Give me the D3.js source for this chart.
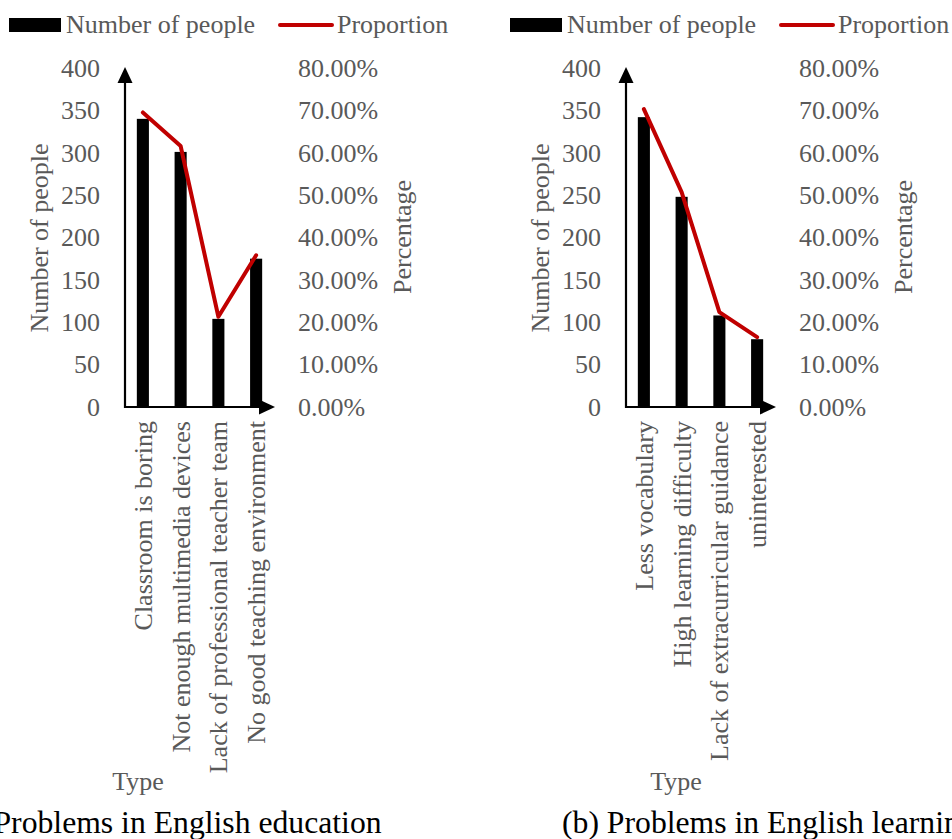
<!DOCTYPE html>
<html>
<head>
<meta charset="utf-8">
<script src="https://cdn.jsdelivr.net/npm/d3@7"></script>
<style>
  html, body { margin: 0; padding: 0; background: #fff; }
  svg { display: block; }
</style>
</head>
<body>
<svg id="chart" width="952" height="839" style="font-family: 'Liberation Serif', 'Times New Roman', serif;"></svg>
<script>
// ---- Data ----
const categoriesA = ["Classroom is boring", "Not enough multimedia devices", "Lack of professional teacher team", "No good teaching environment"];
const peopleA = [340, 301, 104, 175];
const proportionA = [0.695, 0.616, 0.213, 0.358];

const categoriesB = ["Less vocabulary", "High learning difficulty", "Lack of extracurricular guidance", "uninterested"];
const peopleB = [342, 248, 108, 80];
const proportionB = [0.703, 0.507, 0.224, 0.165];

const leftTicks = [0, 50, 100, 150, 200, 250, 300, 350, 400];
const rightTicks = [0, 0.1, 0.2, 0.3, 0.4, 0.5, 0.6, 0.7, 0.8];
const legendLabels = ["Number of people", "Proportion"];
const axisTitles = { left: "Number of people", right: "Percentage", bottom: "Type" };
const captions = ["(a) Problems in English education", "(b) Problems in English learning"];

// ---- Drawing ----
const FONT = "'Liberation Serif', 'Times New Roman', serif";
const svg = d3.select("#chart");
const GRAY = "#595959";
const RED = "#C00000";
const FS = 26;

function styleText(sel) {
  return sel.attr("font-size", FS).attr("fill", GRAY).attr("font-family", FONT).style("font-family", FONT);
}

function drawChart(g, cats, people, props, opt) {
  const axisX = 125, baseY = 407, topY = 68;
  const y = d3.scaleLinear().domain([0, 400]).range([baseY, topY]);
  const yR = d3.scaleLinear().domain([0, 0.8]).range([baseY, topY]);
  const x = d3.scaleBand().domain(cats).range([axisX - 1, axisX + 150])
    .paddingInner(0.68).paddingOuter(0.34);

  // Legend
  const lg = g.append("g");
  lg.append("rect").attr("x", 9).attr("y", 18).attr("width", 52).attr("height", 14).attr("fill", "#000");
  styleText(lg.append("text").attr("x", 66).attr("y", 33)).text(legendLabels[0]);
  lg.append("line").attr("x1", 280).attr("x2", 332).attr("y1", 25).attr("y2", 25)
    .attr("stroke", RED).attr("stroke-width", 4).attr("stroke-linecap", "round");
  styleText(lg.append("text").attr("x", 337).attr("y", 33)).text(legendLabels[1]);

  // Left tick labels
  const la = g.append("g").attr("transform", `translate(100,0)`)
    .call(d3.axisLeft(y).tickValues(leftTicks).tickSize(0).tickPadding(0));
  la.attr("font-family", FONT).attr("font-size", FS);
  la.select(".domain").remove();
  styleText(la.selectAll("text"));

  // Right tick labels
  const ra = g.append("g").attr("transform", `translate(298,0)`)
    .call(d3.axisRight(yR).tickValues(rightTicks).tickFormat(d3.format(".2%")).tickSize(0).tickPadding(0));
  ra.attr("font-family", FONT).attr("font-size", FS);
  ra.select(".domain").remove();
  styleText(ra.selectAll("text"));

  // Bars
  g.append("g").selectAll("rect").data(cats).join("rect")
    .attr("x", d => x(d))
    .attr("width", x.bandwidth())
    .attr("y", (d, i) => y(people[i]))
    .attr("height", (d, i) => baseY - y(people[i]))
    .attr("fill", "#000");

  // Axes with arrows
  g.append("line").attr("x1", axisX).attr("x2", axisX).attr("y1", baseY + 1).attr("y2", topY + 12)
    .attr("stroke", "#000").attr("stroke-width", 2.2);
  g.append("path").attr("d", `M${axisX - 7.5},${topY + 15} L${axisX},${topY - 1} L${axisX + 7.5},${topY + 15} Z`).attr("fill", "#000");
  const endX = axisX + 150;
  g.append("line").attr("x1", axisX - 1).attr("x2", endX - 12).attr("y1", baseY).attr("y2", baseY)
    .attr("stroke", "#000").attr("stroke-width", 2.2);
  g.append("path").attr("d", `M${endX - 16},${baseY - 7.5} L${endX},${baseY} L${endX - 16},${baseY + 7.5} Z`).attr("fill", "#000");

  // Proportion line
  const line = d3.line()
    .x((d, i) => x(cats[i]) + x.bandwidth() / 2)
    .y(d => yR(d));
  g.append("path").datum(props).attr("d", line)
    .attr("fill", "none").attr("stroke", RED).attr("stroke-width", 4)
    .attr("stroke-linejoin", "round").attr("stroke-linecap", "round");

  // Category labels
  const ba = g.append("g").attr("transform", `translate(0,${baseY})`)
    .call(d3.axisBottom(x).tickSize(0));
  ba.attr("font-family", FONT).attr("font-size", FS);
  ba.select(".domain").remove();
  styleText(ba.selectAll("text"))
    .attr("transform", "rotate(-90)")
    .attr("x", -14).attr("y", 0).attr("dy", "0.35em")
    .style("text-anchor", "end");

  // Axis titles
  styleText(g.append("text").attr("transform", `translate(48,238) rotate(-90)`)
    .attr("text-anchor", "middle")).text(axisTitles.left);
  styleText(g.append("text").attr("transform", `translate(411,237) rotate(-90)`)
    .attr("text-anchor", "middle")).text(axisTitles.right);
  styleText(g.append("text").attr("x", opt.typeX).attr("y", 790)
    .attr("text-anchor", "middle")).text(axisTitles.bottom);
}

drawChart(svg.append("g"), categoriesA, peopleA, proportionA, { typeX: 138 });
drawChart(svg.append("g").attr("transform", "translate(501,0)"), categoriesB, peopleB, proportionB, { typeX: 175 });

// Captions (clipped by the figure edge, as in the reference)
svg.append("text").attr("x", 166).attr("y", 833).attr("text-anchor", "middle")
  .attr("font-family", FONT).style("font-family", FONT)
  .attr("font-size", 31.7).attr("fill", "#000").text(captions[0]);
svg.append("text").attr("x", 562).attr("y", 833).attr("text-anchor", "start")
  .attr("font-family", FONT).style("font-family", FONT)
  .attr("font-size", 31.7).attr("fill", "#000").text(captions[1]);
</script>
</body>
</html>
